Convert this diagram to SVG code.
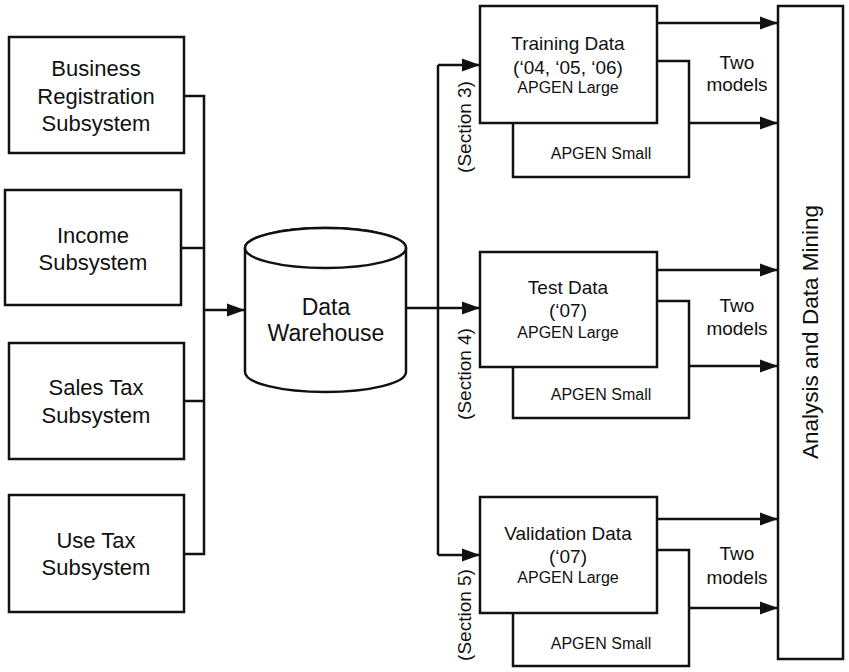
<svg xmlns="http://www.w3.org/2000/svg" width="849" height="672" viewBox="0 0 849 672">
<defs>
<marker id="arr" markerUnits="userSpaceOnUse" markerWidth="18" markerHeight="14" refX="18" refY="7" orient="auto">
<path d="M0,0.5 L18,7 L0,13.5 z" fill="#111"/>
</marker>
<style>
.b{fill:#fff;stroke:#111;stroke-width:2.5}
.l{fill:none;stroke:#111;stroke-width:2.5}
.t{font-family:"Liberation Sans",Arial,sans-serif;fill:#111;text-anchor:middle}
.big{font-size:22px}
.mid{font-size:19px}
.sm{font-size:16px}
</style>
</defs>
<rect width="849" height="672" fill="#fff"/>
<g id="connectors">
<path class="l" d="M184,96 H204 V554 H184 M181,248 H204 M184,401 H204"/>
<path class="l" d="M204,310 H245" marker-end="url(#arr)"/>
<path class="l" d="M406,308 H480" marker-end="url(#arr)"/>
<path class="l" d="M438,65 V555"/>
<path class="l" d="M438,65 H480" marker-end="url(#arr)"/>
<path class="l" d="M438,555 H480" marker-end="url(#arr)"/>
<path class="l" d="M657,23 H778" marker-end="url(#arr)"/>
<path class="l" d="M689,123 H778" marker-end="url(#arr)"/>
<path class="l" d="M657,270 H778" marker-end="url(#arr)"/>
<path class="l" d="M689,366 H778" marker-end="url(#arr)"/>
<path class="l" d="M657,519 H778" marker-end="url(#arr)"/>
<path class="l" d="M689,608 H778" marker-end="url(#arr)"/>
</g>
<g id="business">
<rect class="b" x="9" y="37" width="175" height="116"/>
<text class="t big" x="96" y="76">Business</text>
<text class="t big" x="96" y="104">Registration</text>
<text class="t big" x="96" y="131">Subsystem</text>
</g>
<g id="income">
<rect class="b" x="5" y="190" width="176" height="115"/>
<text class="t big" x="93" y="243">Income</text>
<text class="t big" x="93" y="270">Subsystem</text>
</g>
<g id="salestax">
<rect class="b" x="9" y="343" width="175" height="116"/>
<text class="t big" x="96" y="395">Sales Tax</text>
<text class="t big" x="96" y="423">Subsystem</text>
</g>
<g id="usetax">
<rect class="b" x="9" y="495" width="175" height="117"/>
<text class="t big" x="96" y="548">Use Tax</text>
<text class="t big" x="96" y="575">Subsystem</text>
</g>
<g id="warehouse">
<path class="b" d="M245,248 V372 A80.5,20 0 0 0 406,372 V248 A80.5,20 0 0 0 245,248 z"/>
<ellipse class="b" cx="325.5" cy="248" rx="80.5" ry="20"/>
<text class="t" style="font-size:23px" x="326" y="315">Data</text>
<text class="t" style="font-size:23px" x="326" y="341">Warehouse</text>
</g>
<g id="training">
<rect class="b" x="513" y="61" width="176" height="116"/>
<text class="t sm" x="601" y="159">APGEN Small</text>
<rect class="b" x="480" y="6" width="177" height="117"/>
<text class="t mid" x="568" y="50">Training Data</text>
<text class="t mid" x="568" y="74">(‘04, ‘05, ‘06)</text>
<text class="t sm" x="568" y="93">APGEN Large</text>
</g>
<g id="test">
<rect class="b" x="513" y="301" width="176" height="117"/>
<text class="t sm" x="601" y="400">APGEN Small</text>
<rect class="b" x="480" y="252" width="177" height="115"/>
<text class="t mid" x="568" y="294">Test Data</text>
<text class="t mid" x="568" y="317">(‘07)</text>
<text class="t sm" x="568" y="338">APGEN Large</text>
</g>
<g id="validation">
<rect class="b" x="513" y="550" width="176" height="116"/>
<text class="t sm" x="601" y="649">APGEN Small</text>
<rect class="b" x="480" y="497" width="177" height="116"/>
<text class="t mid" x="568" y="540">Validation Data</text>
<text class="t mid" x="568" y="563">(‘07)</text>
<text class="t sm" x="568" y="583">APGEN Large</text>
</g>
<g id="analysis">
<rect class="b" x="778" y="6" width="65" height="653"/>
<text class="t" style="font-size:22.5px" transform="translate(818,332) rotate(-90)">Analysis and Data Mining</text>
</g>
<g id="labels">
<text class="t mid" x="737" y="69">Two</text>
<text class="t mid" x="737" y="91">models</text>
<text class="t mid" x="737" y="312">Two</text>
<text class="t mid" x="737" y="335">models</text>
<text class="t mid" x="737" y="560">Two</text>
<text class="t mid" x="737" y="584">models</text>
<text class="t mid" transform="translate(471,127) rotate(-90)">(Section 3)</text>
<text class="t mid" transform="translate(471,374) rotate(-90)">(Section 4)</text>
<text class="t mid" transform="translate(471,615) rotate(-90)">(Section 5)</text>
</g>
</svg>
